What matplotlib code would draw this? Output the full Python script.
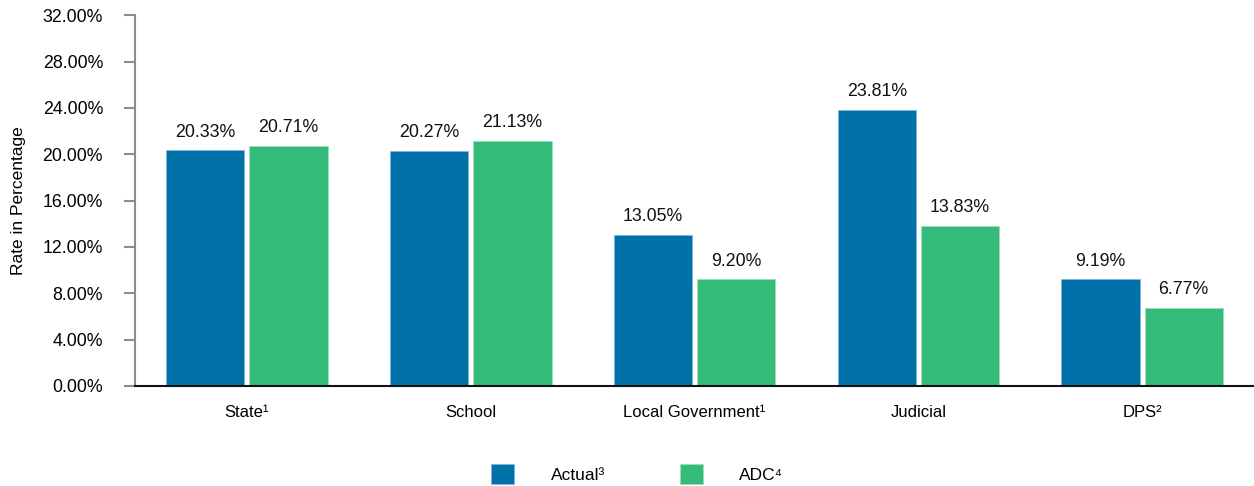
import numpy as np
import matplotlib
matplotlib.use('Agg')
import matplotlib.pyplot as plt
from matplotlib.ticker import FuncFormatter, MultipleLocator

plt.rcParams['font.family'] = ['Liberation Sans', 'DejaVu Sans']

categories = ['State\u00b9', 'School', 'Local Government\u00b9', 'Judicial', 'DPS\u00b2']
actual = [20.33, 20.27, 13.05, 23.81, 9.19]
adc = [20.71, 21.13, 9.20, 13.83, 6.77]
series_names = ['Actual\u00b3', 'ADC\u2074']

blue = '#0071a9'
green = '#35bb79'

fig = plt.figure(figsize=(12.54, 4.86), dpi=100)
ax = fig.add_axes([0.1077, 0.2058, 0.8923, 0.763])

x = np.arange(len(categories))
w = 0.35
gap = 0.022
b1 = ax.bar(x - w / 2 - gap / 2, actual, w, color=blue, edgecolor='#7fb6d6', linewidth=0.6,
            label=series_names[0])
b2 = ax.bar(x + w / 2 + gap / 2, adc, w, color=green, edgecolor='#9be0bd', linewidth=0.6,
            label=series_names[1])

for bars in (b1, b2):
    for rect in bars:
        h = rect.get_height()
        ax.annotate('%.2f%%' % h, (rect.get_x() + rect.get_width() / 2, h),
                    xytext=(0, 7), textcoords='offset points',
                    ha='center', va='bottom', fontsize=12.8, color='#111111')

ax.set_xlim(-0.5, len(categories) - 0.5)
ax.set_ylim(0, 32)
ax.yaxis.set_major_locator(MultipleLocator(4))
ax.yaxis.set_major_formatter(FuncFormatter(lambda v, p: '%.2f%%' % v))
ax.set_xticks(x)
ax.set_xticklabels(categories)
ax.tick_params(axis='x', length=0, pad=14, labelsize=12)
ax.tick_params(axis='y', length=8, width=1.5, color='#8c8c8c', pad=15, labelsize=12.8)
ax.set_ylabel('Rate in Percentage', fontsize=12.5, labelpad=12)

for s in ('top', 'right'):
    ax.spines[s].set_visible(False)
ax.spines['left'].set_color('#8c8c8c')
ax.spines['left'].set_linewidth(1.5)
ax.spines['bottom'].set_color('#111111')
ax.spines['bottom'].set_linewidth(1.5)

fig.legend(handles=[b1, b2], labels=series_names, loc='center', ncol=2,
           bbox_to_anchor=(0.508, 0.025), frameon=False, fontsize=12.5,
           handlelength=1.35, handleheight=1.35, handletextpad=2.1, columnspacing=4.3)

fig.savefig('out.png', dpi=100)
